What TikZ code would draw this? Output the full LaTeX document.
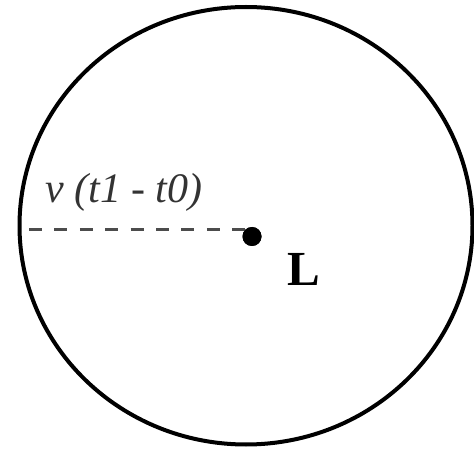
\documentclass[tikz,border=0pt]{standalone}
\usepackage{fontspec}
\setmainfont{Liberation Serif}
\begin{document}
\begin{tikzpicture}[x=1pt,y=-1pt,
  rim/.style={line width=4pt,black},
  radius line/.style={line width=3pt,black!70,dash pattern=on 13pt off 12.4pt},
  centre dot/.style={circle,fill=black,inner sep=0pt,minimum size=19pt},
  lbl/.style={inner sep=0pt,anchor=base west}]
\useasboundingbox (0,0) rectangle (474,449);
\draw[rim] (246,225.75) ellipse [x radius=226.5, y radius=218.75];
\node[centre dot] (dot) at (252,236.5) {};
\coordinate (edge) at (29,230);
\draw[radius line] (edge) -- (edge -| dot.center);
\node[centre dot] at (dot.center) {};
\node[lbl,text=black!80,font=\itshape\fontsize{42}{42}\selectfont] (vt) at (45,203) {v (t1 - t0)};
\node[lbl,font=\bfseries\fontsize{49}{49}\selectfont] (L) at (287,285) {L};
\end{tikzpicture}
\end{document}
